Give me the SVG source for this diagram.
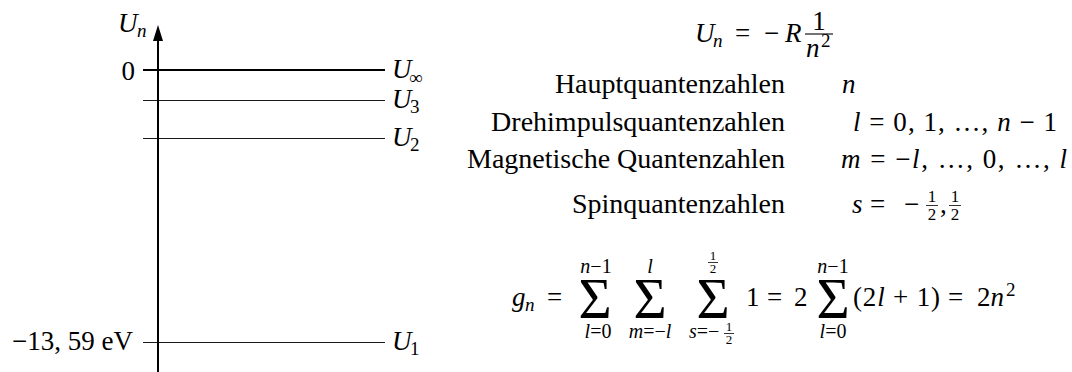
<svg xmlns="http://www.w3.org/2000/svg" width="1072" height="372" viewBox="0 0 1072 372" font-family="'Liberation Serif', 'DejaVu Serif', serif">
<defs>
<style>
text{font-family:'Liberation Serif','DejaVu Serif',serif;fill:#000;font-size:27px}
.i{font-style:italic}
.w{font-size:28px}
.sub{font-size:19px}
.lim{font-size:20px}
.tiny{font-size:13px}
.sm{font-size:17px}
.sig{font-size:57px}
.thin{stroke:#000;stroke-width:0.9;fill:none}
.thick{stroke:#000;stroke-width:2;fill:none}
.bar{stroke:#000;stroke-width:1.1}
.tbar{stroke:#000;stroke-width:0.8}
</style>
</defs>

<g id="connectors">
<line x1="158" y1="372" x2="158" y2="38" class="thick"/>
<path d="M158,25 L163,41 L153,41 Z" fill="#000"/>
</g>

<g id="axis-label">
<text x="118" y="32" class="i">U</text><text x="137" y="37" class="sub i">n</text>
</g>

<g id="level-inf">
<line x1="143" y1="70" x2="385" y2="70" class="thick"/>
<text x="135" y="80" text-anchor="end">0</text>
<text x="392" y="78" class="i">U</text><text x="409" y="84" class="sub">∞</text>
</g>
<g id="level-3">
<line x1="143" y1="100.5" x2="385" y2="100.5" class="thin"/>
<text x="392" y="108" class="i">U</text><text x="410" y="113" class="sub">3</text>
</g>
<g id="level-2">
<line x1="143" y1="138.5" x2="385" y2="138.5" class="thin"/>
<text x="392" y="146" class="i">U</text><text x="410" y="151" class="sub">2</text>
</g>
<g id="level-1">
<line x1="143" y1="342.5" x2="385" y2="342.5" class="thin"/>
<text x="133" y="350" text-anchor="end">−13, 59 eV</text>
<text x="392" y="350" class="i">U</text><text x="410" y="355" class="sub">1</text>
</g>

<g id="formula-Un">
<text x="695" y="42" class="i">U</text><text x="713" y="47" class="sub i">n</text>
<text x="735" y="42">=</text>
<text x="764" y="42">−</text>
<text x="785" y="42" class="i">R</text>
<text x="819" y="30" text-anchor="middle">1</text>
<line x1="805" y1="34" x2="833" y2="34" class="bar"/>
<text x="806" y="57" class="i">n</text><text x="821" y="47" class="sub">2</text>
</g>

<g id="row-n">
<text x="785" y="93" text-anchor="end" class="w">Hauptquantenzahlen</text>
<text x="842" y="93" class="i">n</text>
</g>
<g id="row-l">
<text x="785" y="131" text-anchor="end" class="w">Drehimpulsquantenzahlen</text>
<text x="853" y="131" textLength="204" lengthAdjust="spacing"><tspan class="i">l</tspan> = 0, 1, …, <tspan class="i">n</tspan> − 1</text>
</g>
<g id="row-m">
<text x="785" y="168" text-anchor="end" class="w">Magnetische Quantenzahlen</text>
<text x="841" y="168" textLength="226" lengthAdjust="spacing"><tspan class="i">m</tspan> = −<tspan class="i">l</tspan>, …, 0, …, <tspan class="i">l</tspan></text>
</g>
<g id="row-s">
<text x="785" y="213" text-anchor="end" class="w">Spinquantenzahlen</text>
<text x="852" y="213" class="i">s</text>
<text x="870" y="213">=</text>
<text x="904" y="213">−</text>
<text x="932" y="202" text-anchor="middle" class="sm">1</text>
<line x1="926" y1="205.5" x2="938" y2="205.5" class="tbar"/>
<text x="932" y="220" text-anchor="middle" class="sm">2</text>
<text x="940" y="213">,</text>
<text x="955" y="202" text-anchor="middle" class="sm">1</text>
<line x1="949" y1="205.5" x2="961" y2="205.5" class="tbar"/>
<text x="955" y="220" text-anchor="middle" class="sm">2</text>
</g>

<g id="formula-gn">
<text x="512" y="306" class="i">g</text><text x="525" y="311" class="sub i">n</text>
<text x="547" y="306">=</text>
<text x="595" y="318" text-anchor="middle" class="sig">Σ</text>
<text x="596" y="273" text-anchor="middle" class="lim"><tspan class="i">n</tspan>−1</text>
<text x="598" y="338" text-anchor="middle" class="lim"><tspan class="i">l</tspan>=0</text>
<text x="650" y="318" text-anchor="middle" class="sig">Σ</text>
<text x="650" y="273" text-anchor="middle" class="lim i">l</text>
<text x="650" y="338" text-anchor="middle" class="lim"><tspan class="i">m</tspan>=−<tspan class="i">l</tspan></text>
<text x="713" y="318" text-anchor="middle" class="sig">Σ</text>
<text x="713" y="260" text-anchor="middle" class="tiny">1</text>
<line x1="708" y1="262.5" x2="718" y2="262.5" class="tbar"/>
<text x="713" y="273" text-anchor="middle" class="tiny">2</text>
<text x="689" y="338" class="lim" font-size="21"><tspan class="i">s</tspan>=−</text>
<text x="729" y="331" text-anchor="middle" class="tiny">1</text>
<line x1="724" y1="333.5" x2="734" y2="333.5" class="tbar"/>
<text x="729" y="344" text-anchor="middle" class="tiny">2</text>
<text x="746" y="306">1</text>
<text x="767" y="306">=</text>
<text x="794" y="306">2</text>
<text x="833" y="318" text-anchor="middle" class="sig">Σ</text>
<text x="833" y="273" text-anchor="middle" class="lim"><tspan class="i">n</tspan>−1</text>
<text x="833" y="338" text-anchor="middle" class="lim"><tspan class="i">l</tspan>=0</text>
<text x="853" y="306" textLength="87" lengthAdjust="spacing">(2<tspan class="i">l</tspan> + 1)</text>
<text x="948" y="306">=</text>
<text x="977" y="306">2<tspan class="i">n</tspan></text>
<text x="1006" y="296" class="sub">2</text>
</g>
</svg>
